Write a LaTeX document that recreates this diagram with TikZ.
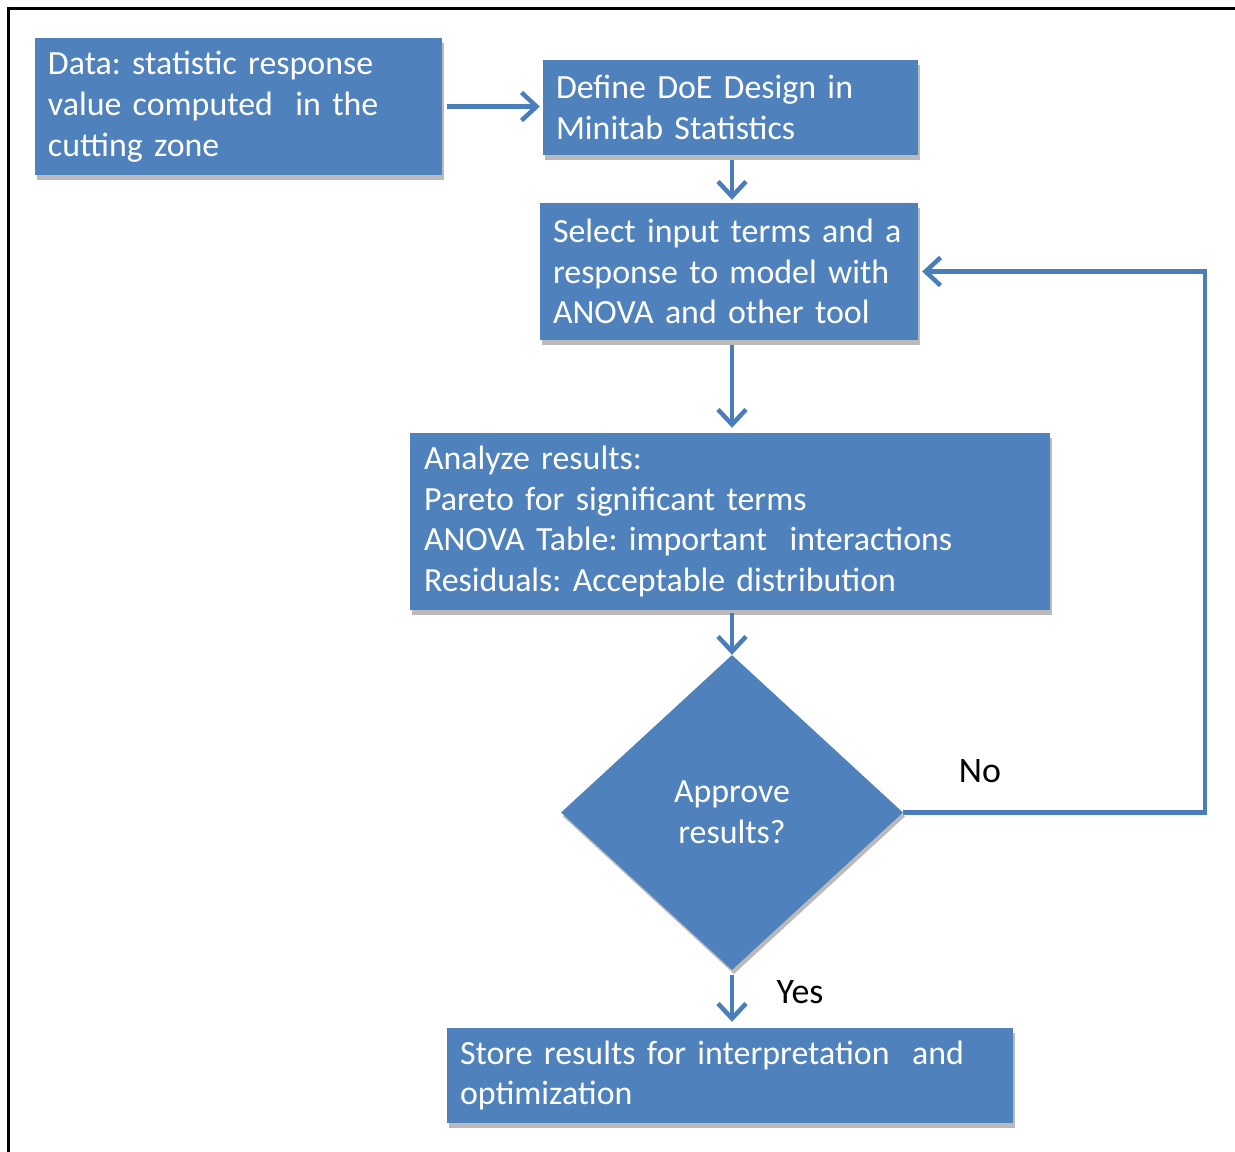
\documentclass[tikz,border=0pt]{standalone}
\usepackage{fontspec}
\setmainfont{Carlito}
\usetikzlibrary{shapes.geometric,arrows.meta,shadows}
\definecolor{boxblue}{HTML}{4F81BD}
\definecolor{arrblue}{HTML}{4A7EBB}
\frenchspacing
\tikzset{
  box/.style={rectangle, fill=boxblue, text=white, align=left, inner xsep=13bp, inner ysep=0bp,
    font=\fontsize{34}{41}\selectfont,
    drop shadow={shadow xshift=2bp, shadow yshift=-5bp, fill=black!45, opacity=0.6}},
  decision/.style={diamond, fill=boxblue, text=white, align=center, inner sep=0bp,
    font=\fontsize{34}{41}\selectfont,
    drop shadow={shadow xshift=2bp, shadow yshift=-4bp, fill=black!45, opacity=0.6}},
  arr/.style={draw=arrblue, line width=4.5bp, -{Straight Barb[length=15bp,width=28bp,line width=4.5bp]}},
  lbl/.style={text=black, font=\fontsize{36}{41}\selectfont, inner sep=0bp},
}
\begin{document}
\begin{tikzpicture}[x=1bp,y=-1bp]
\useasboundingbox (0,0) rectangle (1235,1152);
% frame
\draw[line width=3bp, black] (8,1160) -- (8,8) -- (1240,8);
% nodes
\node[box, minimum width=407bp, minimum height=137bp, text width=381bp] (data) at (238.5,106.5)
  {Data: statistic response\\value computed {\fontsize{44}{41}\selectfont\ }in the\\cutting zone};
\node[box, minimum width=375bp, minimum height=95bp, text width=349bp] (define) at (730.5,107.5)
  {Define DoE Design in\\Minitab Statistics};
\node[box, minimum width=378bp, minimum height=137bp, text width=352bp] (select) at (729,271.5)
  {Select input terms and a\\response to model with\\ANOVA and other tool};
\node[box, minimum width=640bp, minimum height=177bp, text width=612bp] (analyze) at (730,521.5)
  {Analyze results:\\Pareto for significant terms\\ANOVA Table: important {\fontsize{44}{41}\selectfont\ }interactions\\Residuals: Acceptable distribution};
\node[decision, minimum width=342bp, minimum height=315bp] (dia) at (732,812.5)
  {Approve\\results?};
\node[box, minimum width=566bp, minimum height=95bp, text width=540bp] (store) at (730,1075.5)
  {Store results for interpretation {\fontsize{44}{41}\selectfont\ }and\\optimization};
\node[lbl] (no) at (980,771) {No};
\node[lbl] (yes) at (800,992) {Yes};
\coordinate (loopx) at (1205,0);
% connectors
\draw[arr, shorten <=5bp, shorten >=3bp] (data.east) -- (data.east -| define.west);
\draw[arr, shorten <=5bp, shorten >=3bp] (define.south -| dia.north) -- (select.north -| dia.north);
\draw[arr, shorten <=5bp, shorten >=5bp] (select.south -| dia.north) -- (analyze.north -| dia.north);
\draw[arr, shorten <=3bp] (analyze.south -| dia.north) -- (dia.north);
\draw[arr, shorten <=5bp, shorten >=6bp] (dia.south) -- (store.north -| dia.south);
\draw[arr, shorten >=4bp] (dia.east) -- (dia.east -| loopx) |- (select.east);
\end{tikzpicture}
\end{document}
